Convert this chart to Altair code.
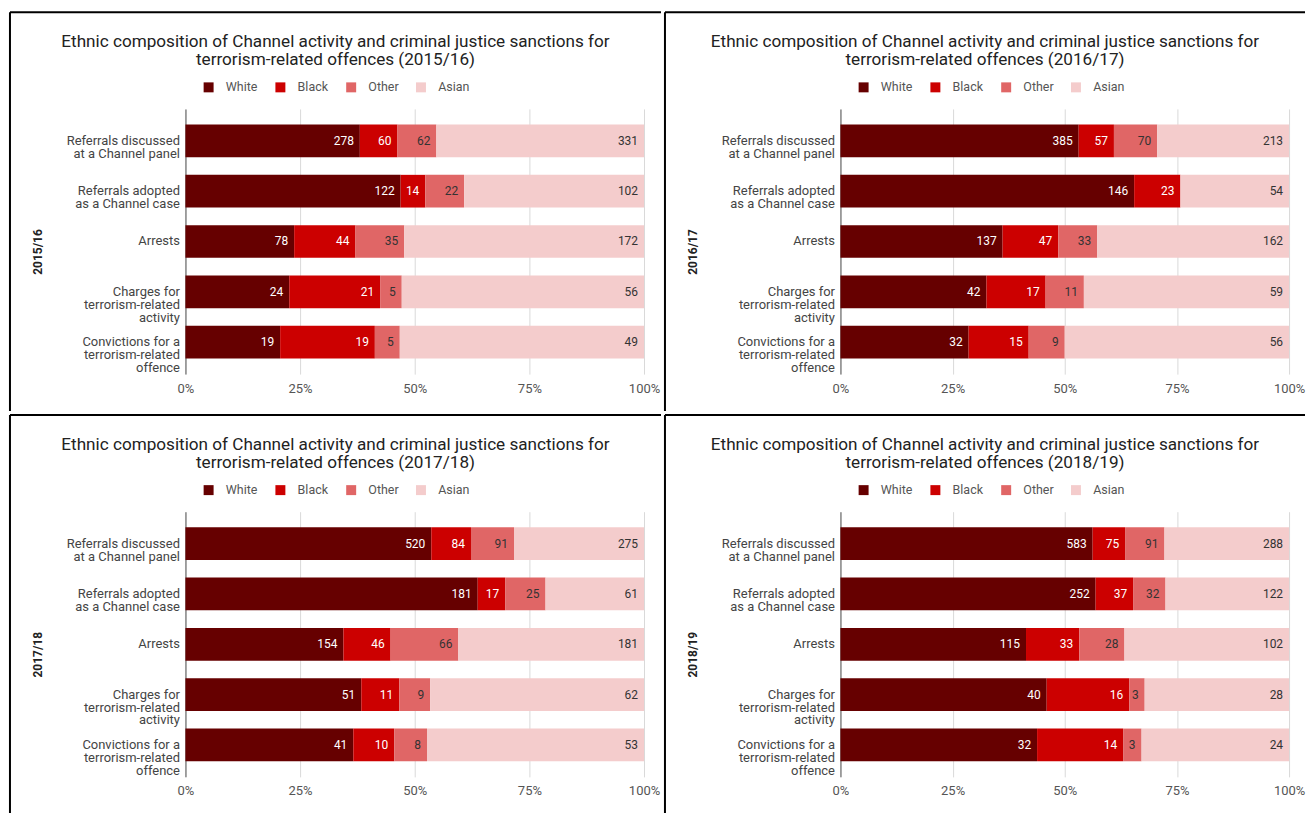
import altair as alt
import pandas as pd

years = ["2015/16", "2016/17", "2017/18", "2018/19"]
categories = [
    "Referrals discussed\nat a Channel panel",
    "Referrals adopted\nas a Channel case",
    "Arrests",
    "Charges for\nterrorism-related\nactivity",
    "Convictions for a\nterrorism-related\noffence",
]
ethnicities = ["White", "Black", "Other", "Asian"]
colors = ["#660000", "#cc0000", "#e06666", "#f4cccc"]
x_ticks = [0, 0.25, 0.5, 0.75, 1]

white_2015 = [278, 122, 78, 24, 19]
black_2015 = [60, 14, 44, 21, 19]
other_2015 = [62, 22, 35, 5, 5]
asian_2015 = [331, 102, 172, 56, 49]

white_2016 = [385, 146, 137, 42, 32]
black_2016 = [57, 23, 47, 17, 15]
other_2016 = [70, 0, 33, 11, 9]
asian_2016 = [213, 54, 162, 59, 56]

white_2017 = [520, 181, 154, 51, 41]
black_2017 = [84, 17, 46, 11, 10]
other_2017 = [91, 25, 66, 9, 8]
asian_2017 = [275, 61, 181, 62, 53]

white_2018 = [583, 252, 115, 40, 32]
black_2018 = [75, 37, 33, 16, 14]
other_2018 = [91, 32, 28, 3, 3]
asian_2018 = [288, 122, 102, 28, 24]

series = {
    "2015/16": [white_2015, black_2015, other_2015, asian_2015],
    "2016/17": [white_2016, black_2016, other_2016, asian_2016],
    "2017/18": [white_2017, black_2017, other_2017, asian_2017],
    "2018/19": [white_2018, black_2018, other_2018, asian_2018],
}

rows = []
for yr in years:
    for k, eth in enumerate(ethnicities):
        for cat, v in zip(categories, series[yr][k]):
            rows.append({"year": yr, "cat": cat, "eth": eth, "ord": k, "value": v})
df = pd.DataFrame(rows)
deco = pd.DataFrame({"k": [0]})

FONT = "Roboto"
OFF_X = 177
OFF_Y = 98
PLOT_H = 266


def panel(year, plot_w, panel_w, panel_h):
    d = df[df.year == year]
    base = alt.Chart(d).transform_stack(
        stack="value",
        groupby=["cat"],
        as_=["x0", "x1"],
        sort=[alt.SortField("ord", order="ascending")],
        offset="normalize",
    )
    y_enc = alt.Y(
        "cat:N",
        sort=categories,
        title=year,
        scale=alt.Scale(paddingInner=0.35, paddingOuter=0.31),
        axis=alt.Axis(
            labelExpr="split(datum.label, '\\n')",
            labelFontSize=13,
            labelFont=FONT,
            labelColor="#444",
            labelPadding=6,
            labelLineHeight=13,
            labelLimit=250,
            ticks=False,
            domain=True,
            domainColor="#888",
            domainWidth=1.5,
            grid=False,
            titleFont=FONT,
            titleFontSize=12,
            titleFontWeight="bold",
            titleColor="#222",
            titleAngle=270,
            titleX=-148,
            titleY=143,
            titleAlign="center",
            titleBaseline="middle",
        ),
    )
    bars = base.mark_bar().encode(
        x=alt.X(
            "x0:Q",
            title=None,
            scale=alt.Scale(domain=[0, 1], nice=False),
            axis=alt.Axis(
                values=x_ticks,
                format=".0%",
                grid=True,
                gridColor="#d9d9d9",
                domain=False,
                ticks=False,
                labelFlush=False,
                labelFontSize=13,
                labelFont=FONT,
                labelColor="#555",
                labelPadding=8,
            ),
        ),
        x2="x1:Q",
        y=y_enc,
        color=alt.Color(
            "eth:N",
            scale=alt.Scale(domain=ethnicities, range=colors),
            legend=alt.Legend(
                orient="none",
                legendX=17,
                legendY=-28,
                direction="horizontal",
                columns=4,
                title=None,
                symbolType="square",
                symbolSize=100,
                symbolStrokeWidth=0,
                labelFontSize=12.5,
                labelFont=FONT,
                labelColor="#555",
                labelOffset=11,
                columnPadding=16,
            ),
        ),
    )
    labels = (
        base.mark_text(align="right", baseline="middle", dx=-6, fontSize=12, font=FONT)
        .encode(
            x="x1:Q",
            y=alt.Y("cat:N", sort=categories),
            text="value:Q",
            color=alt.condition(
                "datum.eth == 'White' || datum.eth == 'Black'",
                alt.value("white"),
                alt.value("#333"),
            ),
        )
        .transform_filter("datum.value > 0")
    )
    frame = alt.Chart(deco).mark_rect(opacity=0).encode(
        x=alt.value(-OFF_X),
        x2=alt.value(panel_w - OFF_X),
        y=alt.value(-OFF_Y),
        y2=alt.value(panel_h - OFF_Y),
    )
    top_line = alt.Chart(deco).mark_rule(color="black", strokeWidth=2).encode(
        x=alt.value(-OFF_X + 1),
        x2=alt.value(panel_w - OFF_X - 1),
        y=alt.value(-OFF_Y + 1),
    )
    left_line = alt.Chart(deco).mark_rule(color="black", strokeWidth=2).encode(
        x=alt.value(-OFF_X + 1),
        y=alt.value(-OFF_Y + 1),
        y2=alt.value(panel_h - OFF_Y - 1),
    )
    title = alt.TitleParams(
        text=[
            "Ethnic composition of Channel activity and criminal justice sanctions for",
            f"terrorism-related offences ({year})",
        ],
        font=FONT,
        fontSize=17.2,
        fontWeight="normal",
        color="#222",
        anchor="middle",
        frame="bounds",
        baseline="top",
        offset=0,
        dy=57,
        lineHeight=18,
    )
    return alt.layer(frame, bars, labels, top_line, left_line).properties(
        width=plot_w, height=PLOT_H, title=title
    )


row1 = alt.hconcat(
    panel("2015/16", 460, 655, 402), panel("2016/17", 450, 644, 402), spacing=0
).resolve_legend(color="independent").resolve_scale(color="independent")
row2 = alt.hconcat(
    panel("2017/18", 460, 655, 402), panel("2018/19", 450, 644, 402), spacing=0
).resolve_legend(color="independent").resolve_scale(color="independent")
chart = (
    alt.vconcat(row1, row2, spacing=0)
    .resolve_legend(color="independent")
    .resolve_scale(color="independent")
    .properties(padding={"left": 8, "top": 9, "right": 0, "bottom": 0})
    .configure(font=FONT)
    .configure_view(stroke="transparent")
)

chart.save("out.html", embed_options={"renderer": "svg", "actions": False})
